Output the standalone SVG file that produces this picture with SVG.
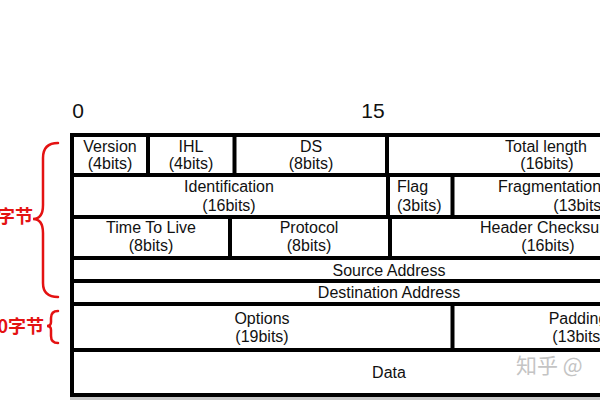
<svg xmlns="http://www.w3.org/2000/svg" width="600" height="400" viewBox="0 0 600 400">
<style>
.t{font-family:"Liberation Sans","Noto Sans",Arial,sans-serif;font-size:16px;fill:#111;text-anchor:middle}
.s{text-anchor:start}
.n{font-family:"Liberation Sans","Noto Sans",Arial,sans-serif;font-size:21px;fill:#111;text-anchor:middle}
.b{stroke:#000;stroke-width:4;fill:none}
.r{stroke:#e41212;stroke-width:2.5;fill:none;stroke-linecap:round}
.rt{font-family:"Noto Sans CJK SC","Noto Sans",sans-serif;font-size:18px;font-weight:bold;fill:#e41212;text-anchor:end}
.wm{font-family:"Noto Sans CJK SC","Noto Sans",sans-serif;font-size:21px;fill:#c4c4c4}
</style>
<rect width="600" height="400" fill="#fff"/>
<text class="n" x="78" y="118">0</text>
<text class="n" x="373" y="118">15</text>

<g id="connectors">
<line class="b" x1="72" y1="135" x2="620" y2="135"/>
<line class="b" x1="72" y1="133" x2="72" y2="397"/>
<line class="b" x1="72" y1="175" x2="620" y2="175"/>
<line class="b" x1="72" y1="217" x2="620" y2="217"/>
<line class="b" x1="72" y1="258" x2="620" y2="258"/>
<line class="b" x1="72" y1="281" x2="620" y2="281"/>
<line class="b" x1="72" y1="304" x2="620" y2="304"/>
<line class="b" x1="72" y1="350" x2="620" y2="350"/>
<line class="b" x1="72" y1="395" x2="620" y2="395"/>
<line class="b" x1="148" y1="135" x2="148" y2="175"/>
<line class="b" x1="234.5" y1="135" x2="234.5" y2="175"/>
<line class="b" x1="387" y1="135" x2="387" y2="175"/>
<line class="b" x1="388" y1="175" x2="388" y2="217"/>
<line class="b" x1="452.5" y1="175" x2="452.5" y2="217"/>
<line class="b" x1="230" y1="217" x2="230" y2="258"/>
<line class="b" x1="390" y1="217" x2="390" y2="258"/>
<line class="b" x1="452.5" y1="304" x2="452.5" y2="350"/>
<line x1="70" y1="398.5" x2="600" y2="398.5" stroke="#c8c8c8" stroke-width="3"/>
<path class="r" d="M58 143 Q43 143 43 158 L43 205 Q43 219 33 219 Q43 219 43 233 L43 283 Q43 297 58 297"/>
<path class="r" d="M58 311 Q51 311 51 318 L51 322 Q51 326 47 326 Q51 326 51 330 L51 336 Q51 343 58 343"/>
</g>

<g id="version"><text class="t" x="110" y="152">Version</text><text class="t" x="110" y="169">(4bits)</text></g>
<g id="ihl"><text class="t" x="191" y="152">IHL</text><text class="t" x="191" y="169">(4bits)</text></g>
<g id="ds"><text class="t" x="311" y="152">DS</text><text class="t" x="311" y="169">(8bits)</text></g>
<g id="total-length"><text class="t" x="546" y="152">Total length</text><text class="t" x="547" y="169">(16bits)</text></g>
<g id="identification"><text class="t" x="229" y="192">Identification</text><text class="t" x="229" y="211">(16bits)</text></g>
<g id="flag"><text class="t s" x="397" y="192">Flag</text><text class="t s" x="397" y="211">(3bits)</text></g>
<g id="fragmentation"><text class="t s" x="498" y="192">Fragmentation</text><text class="t" x="580" y="211">(13bits)</text></g>
<g id="ttl"><text class="t" x="151" y="233">Time To Live</text><text class="t" x="151" y="251">(8bits)</text></g>
<g id="protocol"><text class="t" x="309" y="233">Protocol</text><text class="t" x="309" y="251">(8bits)</text></g>
<g id="checksum"><text class="t s" x="480" y="233">Header Checksum</text><text class="t" x="548" y="251">(16bits)</text></g>
<g id="source"><text class="t" x="389" y="276">Source Address</text></g>
<g id="destination"><text class="t" x="389" y="298">Destination Address</text></g>
<g id="options"><text class="t" x="262" y="324">Options</text><text class="t" x="262" y="342">(19bits)</text></g>
<g id="padding"><text class="t" x="578" y="324">Padding</text><text class="t" x="579" y="342">(13bits)</text></g>
<g id="data"><text class="t" x="389" y="378">Data</text></g>

<g id="labels">
<text class="rt" x="33" y="223">字节</text>
<text class="rt" x="44" y="333">0字节</text>
</g>
<text class="wm" x="516" y="373">知乎 @</text>
</svg>
